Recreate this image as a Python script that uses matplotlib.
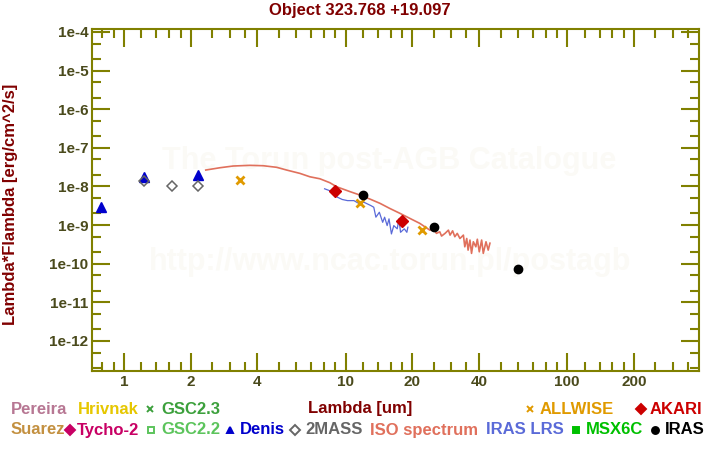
import matplotlib
matplotlib.use('Agg')
import matplotlib.pyplot as plt
import numpy as np
from matplotlib.lines import Line2D
from matplotlib.ticker import FixedLocator, NullFormatter

plt.rcParams['font.family'] = ['Liberation Sans', 'DejaVu Sans']
plt.rcParams['font.weight'] = 'bold'

# photometry (wavelength in um, lambda*F_lambda in erg/cm^2/s)
denis_lam = [0.79, 1.23, 2.15]
denis_flux = [3.0e-9, 1.8e-8, 2.0e-8]
mass_lam = [1.23, 1.65, 2.15]
mass_flux = [1.35e-8, 1.0e-8, 1.05e-8]
allwise_lam = [3.35, 11.6, 22.1]
allwise_flux = [1.5e-8, 3.8e-9, 7.6e-10]
akari_lam = [9.0, 18.0]
akari_flux = [7.6e-9, 1.25e-9]
iras_lam = [12.0, 25.0, 60.0]
iras_flux = [5.9e-9, 9.1e-10, 7.4e-11]

# ISO spectrum
iso_lam = [2.34, 2.71, 3.11, 3.70, 4.25, 4.89, 5.42, 6.22, 6.90, 7.66, 8.49, 9.12,
           10.5, 11.6, 12.9, 14.3, 15.8, 17.6, 19.5, 21.6, 24.0, 24.9, 25.7, 26.6,
           27.1, 28.1, 29.1, 29.6, 30.4, 31.1, 31.9, 32.8, 34.0, 34.5, 35.2, 35.7,
           36.4, 37.0, 37.7, 38.7, 39.3, 40.1, 41.1, 41.8, 43.0, 44.0, 44.8]
iso_flux = [2.66e-8, 3.05e-8, 3.38e-8, 3.52e-8, 3.44e-8, 3.13e-8, 2.66e-8, 2.18e-8,
            1.78e-8, 1.58e-8, 1.25e-8, 9.8e-9, 7.3e-9, 6.0e-9, 4.7e-9, 3.65e-9,
            2.71e-9, 2.01e-9, 1.49e-9, 1.11e-9, 7.4e-10, 8.2e-10, 6.1e-10, 6.7e-10,
            5.2e-10, 6.1e-10, 7.4e-10, 5.5e-10, 7.1e-10, 5.0e-10, 6.1e-10, 4.5e-10,
            5.5e-10, 2.74e-10, 4.5e-10, 2.25e-10, 4.1e-10, 1.85e-10, 3.7e-10,
            2.74e-10, 4.3e-10, 2.03e-10, 4.1e-10, 1.85e-10, 3.7e-10, 2.25e-10, 3.4e-10]

# IRAS LRS
lrs_lam = [8.04, 8.85, 9.17, 9.66, 10.2, 10.9, 11.5, 12.1, 13.0, 13.4, 13.7, 14.2,
           14.7, 15.0, 15.4, 15.7, 16.1, 16.5, 17.1, 17.4, 17.7, 18.4, 18.9, 19.1]
lrs_flux = [8.7e-9, 7.1e-9, 5.3e-9, 4.6e-9, 4.3e-9, 4.3e-9, 3.6e-9, 3.9e-9, 3.2e-9,
            2.9e-9, 1.6e-9, 2.15e-9, 1.18e-9, 1.6e-9, 9.7e-10, 1.45e-9, 5.9e-10,
            9.7e-10, 8.0e-10, 1.45e-9, 6.5e-10, 8.0e-10, 6.5e-10, 8.8e-10]

xticks = [1, 2, 4, 10, 20, 40, 100, 200]
xminor = [0.8, 0.9, 1.2, 1.4, 1.6, 1.8, 2.5, 3, 3.5, 5, 6, 7, 8, 9,
          12, 14, 16, 18, 25, 30, 35, 50, 60, 70, 80, 90, 120, 140, 160, 180, 250, 300, 350]
yticks = [10.0 ** e for e in range(-12, -3)]
ylabels = ['1e%d' % e for e in range(-12, -3)]
yminor = [m * 10.0 ** e for e in range(-13, -3) for m in (2, 5)]

olive = '#808000'
labcol = '#4a4a1c'

fig = plt.figure(figsize=(7.2, 4.5), dpi=100)
ax = fig.add_axes([92.3 / 720, 1 - 371 / 450, (699 - 92.3) / 720, (371 - 29.3) / 450])
ax.set_xscale('log')
ax.set_yscale('log')
ax.set_xlim(0.72, 393)
ax.set_ylim(1.67e-13, 1.17e-4)

# watermark
ax.text(0.49, 0.615, 'The Torun post-AGB Catalogue', transform=ax.transAxes, ha='center',
        va='center', fontsize=22, color='#fbfaf6', zorder=0)
ax.text(0.49, 0.32, 'http://www.ncac.torun.pl/postagb', transform=ax.transAxes, ha='center',
        va='center', fontsize=22, color='#fbfaf6', zorder=0)

ax.plot(iso_lam, iso_flux, color='#e0705c', lw=1.2, zorder=2)
ax.plot(lrs_lam, lrs_flux, color='#5a6ad8', lw=0.9, zorder=2)
ax.plot(denis_lam, denis_flux, '^', color='#0000cc', ms=6.5, zorder=3)
ax.plot(mass_lam, mass_flux, 'D', mfc='none', mec='#666666', mew=1.1, ms=5, zorder=3)
ax.plot(allwise_lam, allwise_flux, 'x', color='#e09a00', mew=2, ms=6, zorder=3)
ax.plot(akari_lam, akari_flux, 'D', color='#cc0000', ms=6, zorder=4)
ax.plot(iras_lam, iras_flux, 'o', color='black', ms=6, zorder=4)

for s in ax.spines.values():
    s.set_color(olive)
    s.set_linewidth(1.5)
ax.xaxis.set_major_locator(FixedLocator(xticks))
ax.xaxis.set_minor_locator(FixedLocator(xminor))
ax.set_xticklabels([str(t) for t in xticks])
ax.xaxis.set_minor_formatter(NullFormatter())
ax.yaxis.set_major_locator(FixedLocator(yticks))
ax.yaxis.set_minor_locator(FixedLocator(yminor))
ax.set_yticklabels(ylabels)
ax.yaxis.set_minor_formatter(NullFormatter())
ax.tick_params(which='both', direction='in', top=True, right=True, color=olive, width=1.5)
ax.tick_params(which='major', length=13, labelsize=11, labelcolor=labcol, pad=3)
ax.tick_params(which='minor', length=6.7)
for lab in ax.get_xticklabels() + ax.get_yticklabels():
    lab.set_fontweight('bold')

fig.text(0.5, 1 - 11 / 450, 'Object 323.768 +19.097', ha='center', va='center',
         fontsize=12, color='#800000', fontweight='bold')
fig.text(0.5, 1 - 408 / 450, 'Lambda [um]', ha='center', va='center',
         fontsize=12, color='#800000', fontweight='bold')
fig.text(11 / 720, 1 - 204 / 450, 'Lambda*Flambda [erg/cm^2/s]', ha='center', va='center',
         rotation=90, fontsize=12, color='#800000', fontweight='bold')

# legend rows
r1 = 1 - 409 / 450
r2 = 1 - 430 / 450
legend_text = [
    ('Pereira', 11, r1, '#b77793'), ('Hrivnak', 78, r1, '#e6c700'),
    ('GSC2.3', 161, r1, '#3ca03c'), ('ALLWISE', 540, r1, '#e09a00'),
    ('AKARI', 650, r1, '#cc0000'),
    ('Suarez', 11, r2, '#c39040'), ('Tycho-2', 77, r2, '#c80064'),
    ('GSC2.2', 161, r2, '#5cc45c'), ('Denis', 240, r2, '#0000cc'),
    ('2MASS', 305, r2, '#666666'), ('ISO spectrum', 370, r2, '#e0705c'),
    ('IRAS LRS', 486, r2, '#5a6ad8'), ('MSX6C', 586, r2, '#00c000'),
    ('IRAS', 665, r2, 'black'),
]
for txt, x, y, c in legend_text:
    fig.text(x / 720, y, txt, ha='left', va='center', fontsize=12, color=c, fontweight='bold')

legend_marks = [
    (150, r1, 'x', '#3ca03c', True), (530, r1, 'x', '#e09a00', True),
    (641, r1, 'D', '#cc0000', True), (70, r2, 'D', '#c80064', True),
    (151, r2, 's', '#5cc45c', False), (230.5, r2, '^', '#0000cc', True),
    (295, r2, 'D', '#666666', False), (576, r2, 's', '#00c000', True),
    (655, r2, 'o', 'black', True),
]
for x, y, m, c, filled in legend_marks:
    fig.add_artist(Line2D([x / 720], [y], marker=m, ms=5, color=c, mew=1.4,
                          mfc=c if filled else 'none', mec=c, transform=fig.transFigure))

fig.savefig('out.png', dpi=100)
